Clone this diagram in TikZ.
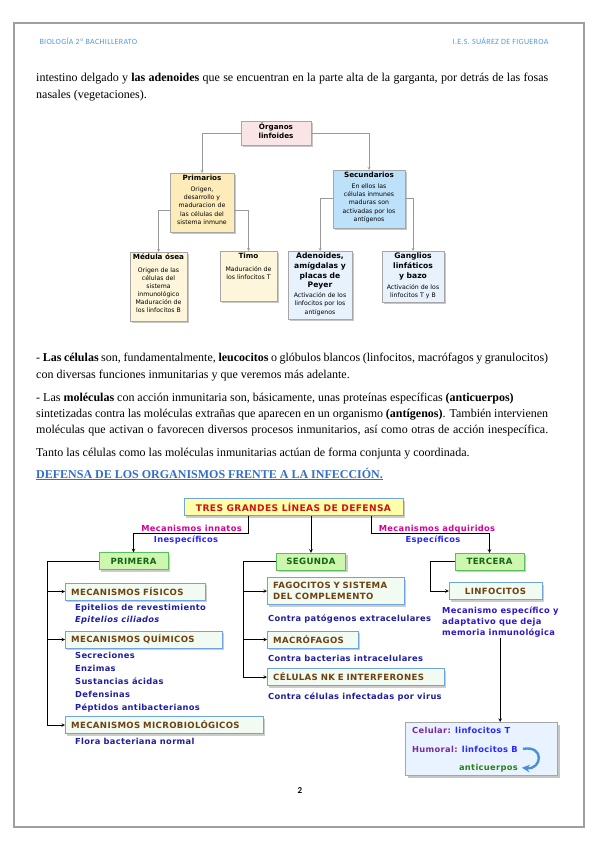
\documentclass[tikz,border=0pt]{standalone}
\usepackage{fontspec}
\setmainfont{Liberation Serif}
\newfontfamily\headfont[LetterSpace=4]{Carlito}
\newfontfamily\orgfont{DejaVu Sans}
\newfontfamily\defenfont[LetterSpace=4]{DejaVu Sans}
\usetikzlibrary{positioning,shadows}

\definecolor{headblue}{RGB}{79,155,217}
\definecolor{titleblue}{RGB}{51,110,200}
\definecolor{orgpink}{RGB}{250,229,230}
\definecolor{primfill}{RGB}{253,236,185}
\definecolor{primlight}{RGB}{253,246,218}
\definecolor{secfill}{RGB}{190,225,250}
\definecolor{seclight}{RGB}{231,242,252}
\definecolor{tresfill}{RGB}{255,255,170}
\definecolor{tresred}{RGB}{205,20,20}
\definecolor{mechline}{RGB}{110,165,220}
\definecolor{mechfill}{RGB}{242,251,242}
\definecolor{mechtext}{RGB}{110,65,15}
\definecolor{grnfill}{RGB}{205,246,175}
\definecolor{grnline}{RGB}{90,190,90}
\definecolor{grntext}{RGB}{20,100,20}
\definecolor{itemblue}{RGB}{30,30,160}
\definecolor{labmag}{RGB}{215,0,150}
\definecolor{labblue}{RGB}{40,40,250}
\definecolor{memblue}{RGB}{50,20,200}
\definecolor{respurp}{RGB}{125,40,155}
\definecolor{resfill}{RGB}{232,243,255}
\definecolor{antigreen}{RGB}{40,130,20}
\definecolor{curvblue}{RGB}{70,145,215}

\newcommand{\jline}[1]{\makebox[512pt][s]{#1}}
\newcommand{\obox}[3]{\parbox[t][#2][t]{#1}{\centering\orgfont #3}}
\newcommand{\otitle}[1]{{\bfseries\fontsize{7.2}{8.8}\selectfont #1\par}\vspace{3pt}}
\newcommand{\otext}[1]{{\fontsize{6.2}{8.1}\selectfont #1\par}}

\begin{document}
\begin{tikzpicture}[x=1pt, y=-1pt, >=stealth,
	txt/.style={anchor=base west, inner sep=0pt, font=\fontsize{12}{14}\selectfont},
	organ/.style={draw=gray!70, anchor=north, inner sep=2pt,
		drop shadow={shadow xshift=2pt, shadow yshift=-2pt, fill=gray!45, opacity=1}},
	orgline/.style={draw=gray!80, ->},
	defbox/.style={draw=mechline, inner sep=0pt, minimum height=17pt,
		font=\defenfont\bfseries\fontsize{8.6}{10}\selectfont,
		drop shadow={shadow xshift=2pt, shadow yshift=-2pt, fill=gray!40, opacity=1}},
	linea/.style={defbox, fill=grnfill, draw=grnline, text=grntext, minimum width=69pt},
	mech/.style={defbox, fill=mechfill, text=mechtext, anchor=west, align=left, inner xsep=6pt},
	item/.style={anchor=base west, inner sep=0pt, text=itemblue,
		font=\defenfont\bfseries\fontsize{8.3}{9}\selectfont},
	conn/.style={->, line width=0.6pt}]

	\useasboundingbox (0,0) rectangle (599,848);

	% page frame and header
	\draw[gray!75, line width=1.2pt] (14,23) rectangle (584,827);
	\node[anchor=base west, text=headblue, font=\headfont\fontsize{8}{9}\selectfont]
	(hl) at (36,45) {BIOLOGÍA 2º BACHILLERATO};
	\node[anchor=base east, text=headblue, font=\headfont\fontsize{8}{9}\selectfont]
	(hr) at (552,45) {I.E.S. SUÁREZ DE FIGUEROA};

	% first text
	\node[txt] (l1) at (36,82) {\jline{intestino delgado y \textbf{las adenoides} que se encuentran en la parte alta de la garganta, por detrás de las fosas}};
	\node[txt] (l2) at (36,99) {nasales (vegetaciones).};

	% organos linfoides
	\node[organ, fill=orgpink] (org) at (276,121)
	{\obox{66pt}{20pt}{\otitle{Órganos\\linfoides}}};
	\node[organ, fill=primfill] (prim) at (202,173)
	{\obox{60pt}{55pt}{\otitle{Primarios}\otext{Origen,\\desarrollo y\\maduracion de\\las células del\\sistema inmune}}};
	\node[organ, fill=secfill] (sec) at (369,170)
	{\obox{68pt}{54pt}{\otitle{Secundarios}\otext{En ellos las\\células inmunes\\maduras son\\activadas por los\\antígenos}}};
	\node[organ, fill=primlight] (med) at (158.5,252)
	{\obox{53pt}{65pt}{\otitle{Médula ósea}\vspace{1pt}\otext{Origen de las\\células del\\sistema\\inmunológico\\Maduración de\\los linfocitos B}}};
	\node[organ, fill=primlight] (timo) at (248.5,251)
	{\obox{53pt}{46pt}{\otitle{Timo}\vspace{2pt}\otext{Maduración de\\los linfocitos T}}};
	\node[organ, fill=seclight] (aden) at (320,251)
	{\obox{60pt}{64pt}{{\bfseries\fontsize{7.6}{9.6}\selectfont Adenoides,\\amígdalas y\\placas de\\Peyer\par}\vspace{2pt}\otext{Activación de los\\linfocitos por los\\antígenos}}};
	\node[organ, fill=seclight] (gang) at (413,251)
	{\obox{58pt}{47pt}{{\bfseries\fontsize{7.6}{9.6}\selectfont Ganglios\\linfáticos\\y bazo\par}\vspace{3pt}\otext{Activación de los\\linfocitos T y B}}};

	\draw[orgline] (org.west) -| (prim.north);
	\draw[orgline] (org.east) -| (sec.north);
	\draw[orgline] ([yshift=22pt]prim.south west) -| (med.north);
	\draw[orgline] ([yshift=22pt]prim.south east) -| (timo.north);
	\draw[orgline] ([yshift=30pt]sec.south west) -| (aden.north);
	\draw[orgline] ([yshift=30pt]sec.south east) -| (gang.north);

	% second text
	\node[txt] (p1) at (36,361) {\jline{- \textbf{Las células} son, fundamentalmente, \textbf{leucocitos} o glóbulos blancos (linfocitos, macrófagos y granulocitos)}};
	\node[txt] (p2) at (36,378) {con diversas funciones inmunitarias y que veremos más adelante.};
	\node[txt] (p3) at (36,401) {- Las \textbf{moléculas} con acción inmunitaria son, básicamente, unas proteínas específicas \textbf{(anticuerpos)}};
	\node[txt] (p4) at (36,417) {\jline{sintetizadas contra las moléculas extrañas que aparecen en un organismo \textbf{(antígenos)}. También intervienen}};
	\node[txt] (p5) at (36,433) {\jline{moléculas que activan o favorecen diversos procesos inmunitarios, así como otras de acción inespecífica.}};
	\node[txt] (p6) at (36,456) {Tanto las células como las moléculas inmunitarias actúan de forma conjunta y coordinada.};
	\node[txt, text=titleblue] (tit) at (36,478)
	{\underline{\textbf{DEFENSA DE LOS ORGANISMOS FRENTE A LA INFECCIÓN.}}};

	% tres lineas de defensa
	\node[defbox, fill=tresfill, text=tresred, minimum width=219pt,
	font=\defenfont\bfseries\fontsize{9.1}{10}\selectfont] (tres) at (293.5,507)
	{TRES GRANDES LÍNEAS DE DEFENSA};
	\node[linea] (pri) at (133.5,561) {PRIMERA};
	\node[linea] (seg) at (311,561.5) {SEGUNDA};
	\node[linea] (ter) at (489.5,561.5) {TERCERA};

	\draw[conn] ([xshift=-45pt]tres.south) -- ++(0,18) -| (pri.north);
	\draw[conn] (tres.south -| seg.north) -- (seg.north);
	\draw[conn] ([xshift=78pt]tres.south) -- ++(0,18) -| (ter.north);

	\node[item, anchor=base, text=labmag] (inn) at (191.5,531.5) {Mecanismos innatos};
	\node[item, anchor=base, text=labblue] (ine) at (186,542.5) {Inespecíficos};
	\node[item, anchor=base, text=labmag] (adq) at (437,531.5) {Mecanismos adquiridos};
	\node[item, anchor=base, text=labblue] (esp) at (433,542.5) {Específicos};

	% primera
	\node[mech, text width=128pt] (fis) at (65,591.5) {MECANISMOS FÍSICOS};
	\node[item] (fis1) at (75,610) {Epitelios de revestimiento};
	\node[item, font=\defenfont\bfseries\itshape\fontsize{8.3}{9}\selectfont] (fis2) at (75,622.5) {Epitelios ciliados};
	\node[mech, text width=145pt] (qui) at (65,639.5) {MECANISMOS QUÍMICOS};
	\foreach \t [count=\i] in {Secreciones, Enzimas, Sustancias ácidas, Defensinas, Péptidos antibacterianos}
	\node[item] (qui\i) at (75,646+12.8*\i) {\t};
	\node[mech, text width=186pt] (mic) at (65,725) {MECANISMOS MICROBIOLÓGICOS};
	\node[item] (mic1) at (75,744.5) {Flora bacteriana normal};

	\coordinate (ptr) at ([xshift=-52pt]pri.west);
	\draw[conn] (pri.west) -- (ptr) |- (mic.west);
	\draw[conn] (fis.west -| ptr) -- (fis.west);
	\draw[conn] (qui.west -| ptr) -- (qui.west);

	% segunda
	\node[mech, text width=125pt, minimum height=27pt, font=\defenfont\bfseries\fontsize{8.6}{11}\selectfont]
	(fag) at (267,591) {FAGOCITOS Y SISTEMA\\DEL COMPLEMENTO};
	\node[item] (fag1) at (268,621) {Contra patógenos extracelulares};
	\node[mech, text width=79pt] (mac) at (267,639.5) {MACRÓFAGOS};
	\node[item] (mac1) at (268,661) {Contra bacterias intracelulares};
	\node[mech, text width=165pt] (nk) at (267,677) {CÉLULAS NK E INTERFERONES};
	\node[item] (nk1) at (268,699) {Contra células infectadas por virus};

	\coordinate (str) at ([xshift=-33pt]seg.west);
	\draw[conn] (seg.west) -- (str) |- (nk.west);
	\draw[conn] (fag.west -| str) -- (fag.west);
	\draw[conn] (mac.west -| str) -- (mac.west);

	% tercera
	\node[mech, anchor=center, align=center, minimum width=93pt] (lin) at (495.5,591) {LINFOCITOS};
	\coordinate (ttr) at ([xshift=-25pt]ter.west);
	\draw[conn] (ter.west) -- (ttr) |- (lin.west);
	\node[item, anchor=north west, align=left, text=memblue,
	font=\defenfont\bfseries\fontsize{8.3}{11}\selectfont] (mem) at (442,607)
	{Mecanismo específico y\\adaptativo que deja\\memoria inmunológica};

	\node[draw=gray!70, fill=resfill, anchor=north west, minimum width=152pt, minimum height=53pt,
	drop shadow={shadow xshift=3pt, shadow yshift=-3pt, fill=gray!45, opacity=1}] (res) at (405,722) {};
	\coordinate (resin) at ([xshift=19pt]res.north);
	\draw[conn] (mem.south -| resin) -- (resin);

	\node[item, text=labblue] (cel) at (412,733.5) {\textcolor{respurp}{Celular:} linfocitos T};
	\node[item, text=labblue] (hum) at (412,752) {\textcolor{respurp}{Humoral:} linfocitos B};
	\node[item, anchor=base east, text=antigreen] (anti) at (518,770) {anticuerpos};
	\draw[->, line width=2.4pt, curvblue] ([xshift=5pt]hum.east) .. controls +(22,-4) and +(20,2) .. ([xshift=4pt]anti.east);

	% page number
	\node[font=\headfont\bfseries\fontsize{9}{10}\selectfont] (pnum) at (300,791) {2};

\end{tikzpicture}
\end{document}
